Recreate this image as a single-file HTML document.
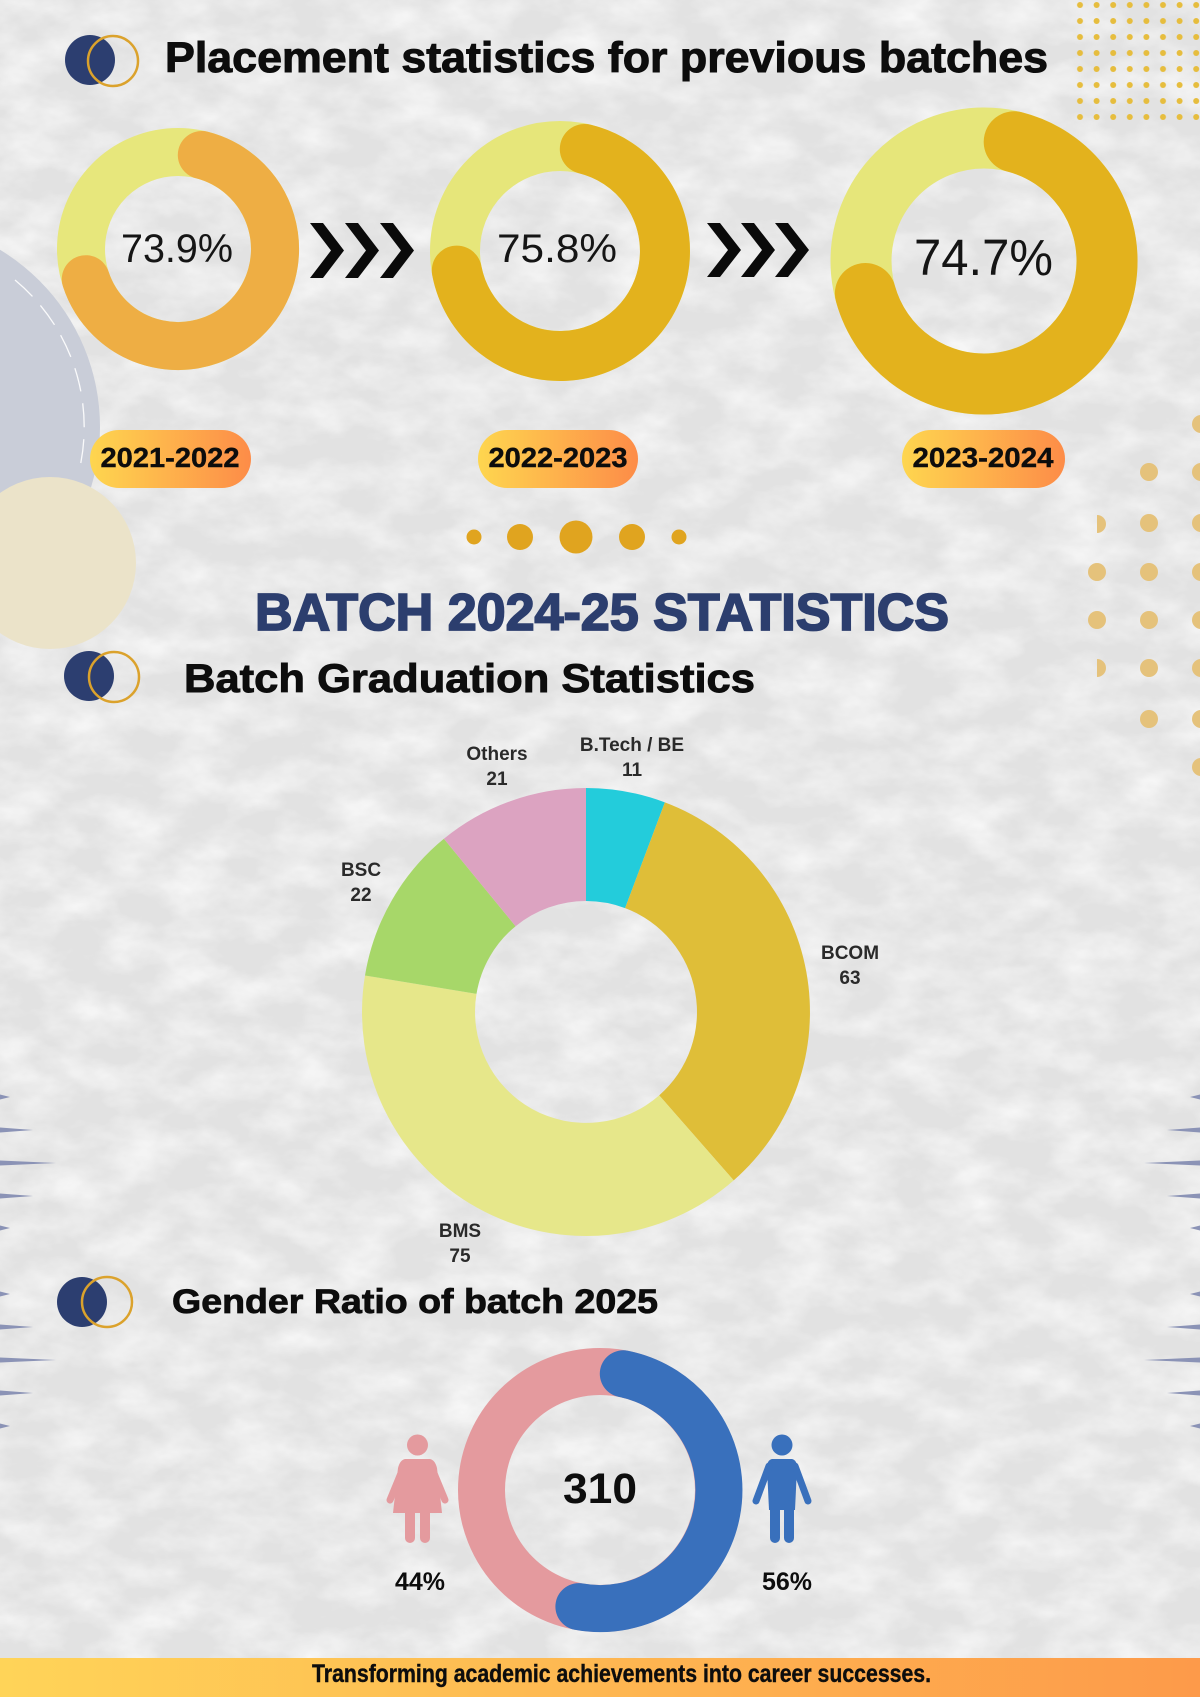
<!DOCTYPE html>
<html><head><meta charset="utf-8"><style>
html,body{margin:0;padding:0;background:#e3e3e3;}
svg{display:block;}
text{font-family:"Liberation Sans",Arial,sans-serif;}
</style></head><body>
<svg width="1200" height="1697" viewBox="0 0 1200 1697" xmlns="http://www.w3.org/2000/svg">
<defs>
<filter id="tex" x="0" y="0" width="100%" height="100%">
<feTurbulence type="fractalNoise" baseFrequency="0.018 0.03" numOctaves="4" seed="7"/>
<feColorMatrix type="matrix" values="0 0 0 0 1  0 0 0 0 1  0 0 0 0 1  1.3 0 0 0 -0.45"/>
</filter>
<linearGradient id="pill" x1="0" y1="0" x2="1" y2="0">
<stop offset="0" stop-color="#fed64f"/><stop offset="1" stop-color="#fd8c48"/>
</linearGradient>
<linearGradient id="foot" x1="0" y1="0" x2="1" y2="0">
<stop offset="0" stop-color="#ffd458"/><stop offset="1" stop-color="#fd9a4a"/>
</linearGradient>
<pattern id="dg" x="1072" y="-3" width="16.6" height="16" patternUnits="userSpaceOnUse"><circle cx="8" cy="8" r="3" fill="#e6bd3e"/></pattern>
<clipPath id="halfR"><rect x="1097" y="0" width="110" height="1697"/></clipPath>
</defs>

<!-- background -->
<rect x="0" y="0" width="1200" height="1697" fill="#e2e2e2"/>
<rect x="0" y="0" width="1200" height="1697" filter="url(#tex)"/>

<!-- left decorative circles -->
<circle cx="-107" cy="427" r="207" fill="#c9cdd8"/>
<path d="M15,280 A191,191 0 0 1 80,467" fill="none" stroke="#ffffff" stroke-width="1.3" stroke-dasharray="24 12" opacity="0.9"/>
<circle cx="50" cy="563" r="86" fill="#ebe3c9"/>

<!-- top right dot grid -->
<rect x="1072" y="0" width="128" height="125" fill="url(#dg)"/>

<!-- right side dots -->
<g fill="#e5c27b">
<circle cx="1201" cy="424" r="9"/><circle cx="1201" cy="472" r="9"/><circle cx="1201" cy="523" r="9"/><circle cx="1201" cy="572" r="9"/><circle cx="1201" cy="620" r="9"/><circle cx="1201" cy="668" r="9"/><circle cx="1201" cy="719" r="9"/><circle cx="1201" cy="767" r="9"/>
<circle cx="1149" cy="472" r="9"/><circle cx="1149" cy="523" r="9"/><circle cx="1149" cy="572" r="9"/><circle cx="1149" cy="620" r="9"/><circle cx="1149" cy="668" r="9"/><circle cx="1149" cy="719" r="9"/>
<circle cx="1097" cy="572" r="9"/><circle cx="1097" cy="620" r="9"/>
<g clip-path="url(#halfR)"><circle cx="1097" cy="524" r="9"/><circle cx="1097" cy="668" r="9"/></g>
</g>

<!-- edge spikes -->
<g fill="#8b93b6">
<polygon points="0,1094.5 10,1097 0,1099.5"/>
<polygon points="0,1127.5 33,1130 0,1132.5"/>
<polygon points="0,1160.5 56,1163 0,1165.5"/>
<polygon points="0,1193.5 33,1196 0,1198.5"/>
<polygon points="0,1225.5 10,1228 0,1230.5"/>
<polygon points="0,1291.5 10,1294 0,1296.5"/>
<polygon points="0,1324.5 33,1327 0,1329.5"/>
<polygon points="0,1357.5 56,1360 0,1362.5"/>
<polygon points="0,1390.5 33,1393 0,1395.5"/>
<polygon points="0,1423.5 10,1426 0,1428.5"/>
<polygon points="1200,1094.5 1190,1097 1200,1099.5"/>
<polygon points="1200,1127.5 1167,1130 1200,1132.5"/>
<polygon points="1200,1160.5 1144,1163 1200,1165.5"/>
<polygon points="1200,1193.5 1167,1196 1200,1198.5"/>
<polygon points="1200,1225.5 1190,1228 1200,1230.5"/>
<polygon points="1200,1291.5 1190,1294 1200,1296.5"/>
<polygon points="1200,1324.5 1167,1327 1200,1329.5"/>
<polygon points="1200,1357.5 1144,1360 1200,1362.5"/>
<polygon points="1200,1390.5 1167,1393 1200,1395.5"/>
<polygon points="1200,1423.5 1190,1426 1200,1428.5"/>
</g>

<!-- Title 1 -->
<circle cx="90" cy="60" r="25" fill="#2c3e70"/>
<circle cx="113" cy="61" r="25" fill="none" stroke="#dba22c" stroke-width="2.5"/>
<text x="165" y="72" font-size="43" font-weight="bold" fill="#0d0d0d" stroke="#0d0d0d" stroke-width="1" textLength="883" lengthAdjust="spacingAndGlyphs">Placement statistics for previous batches</text>

<!-- Donut 1 -->
<circle cx="178" cy="249" r="97" fill="none" stroke="#e7e77c" stroke-width="48"/>
<path d="M201.8,155 A97,97 0 1 1 85.8,279.2" fill="none" stroke="#eeae44" stroke-width="48" stroke-linecap="round"/>
<text x="121" y="262" font-size="40" fill="#151515" textLength="112" lengthAdjust="spacingAndGlyphs">73.9%</text>

<!-- Arrows 1 -->
<g fill="#0a0a0a">
<polygon points="310,223 323,223 344,250.5 323,278 310,278 331,250.5"/>
<polygon points="345,223 358,223 379,250.5 358,278 345,278 366,250.5"/>
<polygon points="380,223 393,223 414,250.5 393,278 380,278 401,250.5"/>
</g>

<!-- Donut 2 -->
<circle cx="560" cy="251" r="105" fill="none" stroke="#e6e67a" stroke-width="50"/>
<path d="M584.8,149 A105,105 0 1 1 456.8,270.6" fill="none" stroke="#e3b21d" stroke-width="50" stroke-linecap="round"/>
<text x="497" y="262" font-size="40" fill="#151515" textLength="120" lengthAdjust="spacingAndGlyphs">75.8%</text>

<!-- Arrows 2 -->
<g fill="#0a0a0a">
<polygon points="707,223 720,223 741,250 720,277 707,277 728,250"/>
<polygon points="741,223 754,223 775,250 754,277 741,277 762,250"/>
<polygon points="775,223 788,223 809,250 788,277 775,277 796,250"/>
</g>

<!-- Donut 3 -->
<circle cx="984" cy="261" r="123" fill="none" stroke="#e6e67a" stroke-width="61"/>
<path d="M1014.2,141.8 A123,123 0 1 1 865.4,293.5" fill="none" stroke="#e3b21d" stroke-width="61" stroke-linecap="round"/>
<text x="914" y="275" font-size="51" fill="#151515" textLength="139" lengthAdjust="spacingAndGlyphs">74.7%</text>

<!-- Pills -->
<rect x="90" y="430" width="161" height="58" rx="29" fill="url(#pill)"/>
<text x="170" y="467" font-size="28" font-weight="bold" fill="#0d0d0d" stroke="#0d0d0d" stroke-width="0.4" text-anchor="middle" textLength="139" lengthAdjust="spacingAndGlyphs">2021-2022</text>
<rect x="478" y="430" width="160" height="58" rx="29" fill="url(#pill)"/>
<text x="558" y="467" font-size="28" font-weight="bold" fill="#0d0d0d" stroke="#0d0d0d" stroke-width="0.4" text-anchor="middle" textLength="139" lengthAdjust="spacingAndGlyphs">2022-2023</text>
<rect x="902" y="430" width="163" height="58" rx="29" fill="url(#pill)"/>
<text x="983" y="467" font-size="28" font-weight="bold" fill="#0d0d0d" stroke="#0d0d0d" stroke-width="0.4" text-anchor="middle" textLength="141" lengthAdjust="spacingAndGlyphs">2023-2024</text>

<!-- middle dots -->
<g fill="#e0a41f">
<circle cx="474" cy="537" r="7.5"/>
<circle cx="520" cy="537" r="13"/>
<circle cx="576" cy="537" r="16.5"/>
<circle cx="632" cy="537" r="13"/>
<circle cx="679" cy="537" r="7.5"/>
</g>

<!-- BATCH title -->
<text x="255" y="630" font-size="52" font-weight="bold" fill="#2c3e6e" stroke="#2c3e6e" stroke-width="1.8" textLength="694" lengthAdjust="spacingAndGlyphs">BATCH 2024-25 STATISTICS</text>

<!-- Title 2 -->
<circle cx="89" cy="676" r="25" fill="#2c3e70"/>
<circle cx="114" cy="677" r="25" fill="none" stroke="#dba22c" stroke-width="2.5"/>
<text x="184" y="692" font-size="40" font-weight="bold" fill="#0d0d0d" stroke="#0d0d0d" stroke-width="0.9" textLength="571" lengthAdjust="spacingAndGlyphs">Batch Graduation Statistics</text>

<!-- Graduation donut -->
<path d="M586,788 A224,224 0 0 1 664.9,802.4 L625.1,908.1 A111,111 0 0 0 586,901 Z" fill="#23ccdb"/>
<path d="M664.9,802.4 A224,224 0 0 1 733.7,1180.4 L659.2,1095.4 A111,111 0 0 0 625.1,908.1 Z" fill="#dfbe38"/>
<path d="M733.7,1180.4 A224,224 0 0 1 365,975.5 L476.5,993.9 A111,111 0 0 0 659.2,1095.4 Z" fill="#e6e78a"/>
<path d="M365,975.5 A224,224 0 0 1 443.9,838.8 L515.6,926.2 A111,111 0 0 0 476.5,993.9 Z" fill="#a7d769"/>
<path d="M443.9,838.8 A224,224 0 0 1 586,788 L586,901 A111,111 0 0 0 515.6,926.2 Z" fill="#dca3c1"/>

<g font-size="19" font-weight="bold" fill="#2a2a2a" text-anchor="middle">
<text x="497" y="760">Others</text><text x="497" y="785">21</text>
<text x="632" y="751">B.Tech / BE</text><text x="632" y="776">11</text>
<text x="361" y="876">BSC</text><text x="361" y="901">22</text>
<text x="850" y="959">BCOM</text><text x="850" y="984">63</text>
<text x="460" y="1237">BMS</text><text x="460" y="1262">75</text>
</g>

<!-- Title 3 -->
<circle cx="82" cy="1302" r="25" fill="#2c3e70"/>
<circle cx="107" cy="1302" r="25" fill="none" stroke="#dba22c" stroke-width="2.5"/>
<text x="172" y="1313" font-size="34" font-weight="bold" fill="#0d0d0d" stroke="#0d0d0d" stroke-width="0.8" textLength="486" lengthAdjust="spacingAndGlyphs">Gender Ratio of batch 2025</text>

<!-- Gender donut -->
<circle cx="600" cy="1490" r="118.5" fill="none" stroke="#e49a9e" stroke-width="47"/>
<path d="M623.3,1373.8 A118.5,118.5 0 0 1 578.9,1606.6" fill="none" stroke="#3970bc" stroke-width="47" stroke-linecap="round"/>
<text x="600" y="1503" font-size="43" font-weight="bold" fill="#0d0d0d" text-anchor="middle" textLength="74" lengthAdjust="spacingAndGlyphs">310</text>

<!-- female icon -->
<g fill="#e49a9e" stroke="none">
<circle cx="417.5" cy="1445" r="10.5"/>
<path d="M405,1459 L430,1459 Q435,1460 437,1468 L442,1513 L393,1513 L398,1468 Q400,1460 405,1459 Z"/>
<line x1="404" y1="1466" x2="390" y2="1500" stroke="#e49a9e" stroke-width="7" stroke-linecap="round"/>
<line x1="431" y1="1466" x2="445" y2="1500" stroke="#e49a9e" stroke-width="7" stroke-linecap="round"/>
<rect x="405" y="1508" width="10" height="35" rx="5"/>
<rect x="420" y="1508" width="10" height="35" rx="5"/>
</g>
<!-- male icon -->
<g fill="#3970bc">
<circle cx="782" cy="1445" r="10.5"/>
<path d="M772,1459 L792,1459 Q797,1460 797,1468 L795,1510 L769,1510 L767,1468 Q767,1460 772,1459 Z"/>
<line x1="769" y1="1466" x2="756" y2="1501" stroke="#3970bc" stroke-width="7" stroke-linecap="round"/>
<line x1="795" y1="1466" x2="808" y2="1501" stroke="#3970bc" stroke-width="7" stroke-linecap="round"/>
<rect x="770" y="1500" width="10" height="43" rx="5"/>
<rect x="784" y="1500" width="10" height="43" rx="5"/>
</g>
<text x="420" y="1590" font-size="25" font-weight="bold" fill="#0d0d0d" text-anchor="middle">44%</text>
<text x="787" y="1590" font-size="25" font-weight="bold" fill="#0d0d0d" text-anchor="middle">56%</text>

<!-- footer -->
<rect x="0" y="1658" width="1200" height="39" fill="url(#foot)"/>
<text x="312" y="1682" font-size="25" font-weight="bold" fill="#0d0d0d" stroke="#0d0d0d" stroke-width="0.4" textLength="619" lengthAdjust="spacingAndGlyphs">Transforming academic achievements into career successes.</text>
</svg>
</body></html>
